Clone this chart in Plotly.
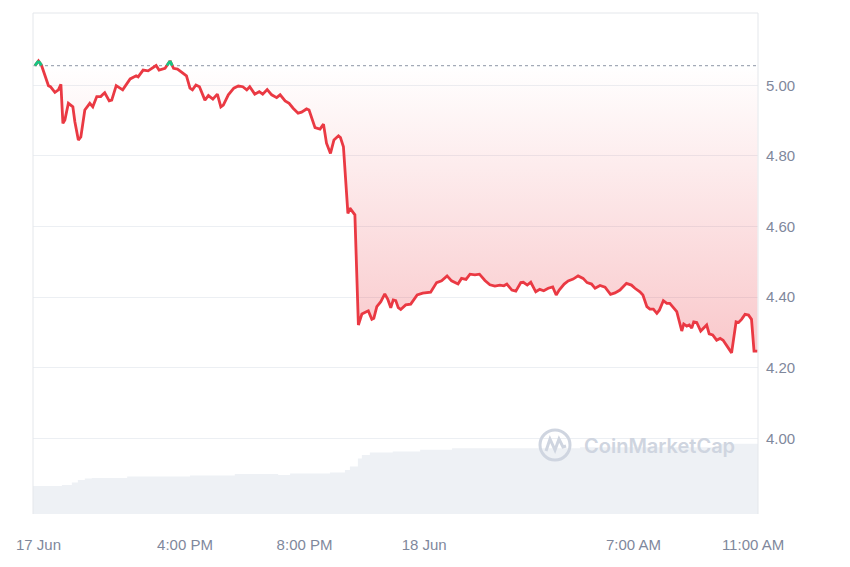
import plotly.graph_objects as go
import pandas as pd

# ---------------- data ----------------
TIMES = [
    "2024-06-17 10:59", "2024-06-17 11:06", "2024-06-17 11:12", "2024-06-17 11:19", "2024-06-17 11:26",
    "2024-06-17 11:30", "2024-06-17 11:39", "2024-06-17 11:46", "2024-06-17 11:51", "2024-06-17 11:55",
    "2024-06-17 11:59", "2024-06-17 12:06", "2024-06-17 12:15", "2024-06-17 12:19", "2024-06-17 12:26",
    "2024-06-17 12:31", "2024-06-17 12:39", "2024-06-17 12:49", "2024-06-17 12:55", "2024-06-17 13:03",
    "2024-06-17 13:11", "2024-06-17 13:16", "2024-06-17 13:19", "2024-06-17 13:28", "2024-06-17 13:33",
    "2024-06-17 13:42", "2024-06-17 13:50", "2024-06-17 13:55", "2024-06-17 14:10", "2024-06-17 14:22",
    "2024-06-17 14:26", "2024-06-17 14:36", "2024-06-17 14:46", "2024-06-17 14:53", "2024-06-17 15:02",
    "2024-06-17 15:08", "2024-06-17 15:20", "2024-06-17 15:30", "2024-06-17 15:37", "2024-06-17 15:45",
    "2024-06-17 15:53", "2024-06-17 16:03", "2024-06-17 16:10", "2024-06-17 16:15", "2024-06-17 16:22",
    "2024-06-17 16:29", "2024-06-17 16:40", "2024-06-17 16:47", "2024-06-17 16:56", "2024-06-17 17:05",
    "2024-06-17 17:12", "2024-06-17 17:17", "2024-06-17 17:27", "2024-06-17 17:38", "2024-06-17 17:47",
    "2024-06-17 17:56", "2024-06-17 18:04", "2024-06-17 18:10", "2024-06-17 18:20", "2024-06-17 18:29",
    "2024-06-17 18:36", "2024-06-17 18:45", "2024-06-17 18:54", "2024-06-17 19:04", "2024-06-17 19:11",
    "2024-06-17 19:21", "2024-06-17 19:29", "2024-06-17 19:37", "2024-06-17 19:47", "2024-06-17 19:54",
    "2024-06-17 20:04", "2024-06-17 20:09", "2024-06-17 20:21", "2024-06-17 20:31", "2024-06-17 20:38",
    "2024-06-17 20:44", "2024-06-17 20:52", "2024-06-17 20:59", "2024-06-17 21:08", "2024-06-17 21:12",
    "2024-06-17 21:18", "2024-06-17 21:21", "2024-06-17 21:27", "2024-06-17 21:31", "2024-06-17 21:41",
    "2024-06-17 21:48", "2024-06-17 21:55", "2024-06-17 22:05", "2024-06-17 22:08", "2024-06-17 22:15",
    "2024-06-17 22:19", "2024-06-17 22:25", "2024-06-17 22:33", "2024-06-17 22:41", "2024-06-17 22:47",
    "2024-06-17 22:53", "2024-06-17 22:58", "2024-06-17 23:03", "2024-06-17 23:08", "2024-06-17 23:13",
    "2024-06-17 23:23", "2024-06-17 23:33", "2024-06-17 23:46", "2024-06-17 23:57",
    "2024-06-18 00:04", "2024-06-18 00:13", "2024-06-18 00:25", "2024-06-18 00:35", "2024-06-18 00:46",
    "2024-06-18 00:55", "2024-06-18 01:08", "2024-06-18 01:15", "2024-06-18 01:24", "2024-06-18 01:32",
    "2024-06-18 01:42", "2024-06-18 01:51", "2024-06-18 02:02", "2024-06-18 02:12", "2024-06-18 02:22",
    "2024-06-18 02:32", "2024-06-18 02:40", "2024-06-18 02:46", "2024-06-18 02:56", "2024-06-18 03:04",
    "2024-06-18 03:14", "2024-06-18 03:19", "2024-06-18 03:27", "2024-06-18 03:34", "2024-06-18 03:44",
    "2024-06-18 03:52", "2024-06-18 04:00", "2024-06-18 04:09", "2024-06-18 04:18", "2024-06-18 04:25",
    "2024-06-18 04:31", "2024-06-18 04:41", "2024-06-18 04:49", "2024-06-18 04:59", "2024-06-18 05:09",
    "2024-06-18 05:19", "2024-06-18 05:27", "2024-06-18 05:36", "2024-06-18 05:43", "2024-06-18 05:53",
    "2024-06-18 06:03", "2024-06-18 06:14", "2024-06-18 06:23", "2024-06-18 06:33", "2024-06-18 06:46",
    "2024-06-18 06:56", "2024-06-18 07:03", "2024-06-18 07:13", "2024-06-18 07:19", "2024-06-18 07:27",
    "2024-06-18 07:33", "2024-06-18 07:40", "2024-06-18 07:47", "2024-06-18 07:52", "2024-06-18 08:00",
    "2024-06-18 08:07", "2024-06-18 08:13", "2024-06-18 08:21", "2024-06-18 08:27", "2024-06-18 08:33",
    "2024-06-18 08:37", "2024-06-18 08:41", "2024-06-18 08:47", "2024-06-18 08:52", "2024-06-18 08:57",
    "2024-06-18 09:01", "2024-06-18 09:07", "2024-06-18 09:15", "2024-06-18 09:20", "2024-06-18 09:27",
    "2024-06-18 09:32", "2024-06-18 09:39", "2024-06-18 09:47", "2024-06-18 09:54", "2024-06-18 10:00",
    "2024-06-18 10:07", "2024-06-18 10:17", "2024-06-18 10:26", "2024-06-18 10:31", "2024-06-18 10:37",
    "2024-06-18 10:44", "2024-06-18 10:51", "2024-06-18 10:57", "2024-06-18 11:02", "2024-06-18 11:09",
]

PRICES = [
    5.056, 5.069, 5.057, 5.029, 4.999,
    4.996, 4.980, 4.987, 5.003, 4.892,
    4.902, 4.949, 4.939, 4.897, 4.845,
    4.854, 4.930, 4.949, 4.939, 4.968,
    4.968, 4.975, 4.979, 4.956, 4.958,
    4.999, 4.992, 4.987, 5.018, 5.027,
    5.024, 5.043, 5.041, 5.048, 5.056,
    5.043, 5.048, 5.069, 5.048, 5.046,
    5.037, 5.027, 4.992, 4.987, 5.001,
    4.996, 4.958, 4.971, 4.961, 4.975,
    4.939, 4.944, 4.973, 4.992, 4.998,
    4.996, 4.987, 4.996, 4.975, 4.982,
    4.975, 4.988, 4.973, 4.965, 4.973,
    4.956, 4.949, 4.935, 4.921, 4.924,
    4.933, 4.930, 4.880, 4.876, 4.890,
    4.836, 4.807, 4.845, 4.857, 4.852,
    4.826, 4.760, 4.637, 4.652, 4.633,
    4.321, 4.352, 4.359, 4.361, 4.337,
    4.340, 4.373, 4.387, 4.409, 4.394,
    4.370, 4.392, 4.390, 4.370, 4.365,
    4.378, 4.380, 4.406, 4.411,
    4.412, 4.414, 4.441, 4.446, 4.460,
    4.446, 4.437, 4.453, 4.450, 4.465,
    4.463, 4.465, 4.447, 4.435, 4.431,
    4.434, 4.432, 4.437, 4.420, 4.417,
    4.441, 4.442, 4.434, 4.442, 4.415,
    4.422, 4.418, 4.425, 4.429, 4.406,
    4.420, 4.437, 4.446, 4.451, 4.460,
    4.453, 4.441, 4.437, 4.425, 4.433,
    4.428, 4.408, 4.412, 4.420, 4.439,
    4.434, 4.425, 4.415, 4.406, 4.373,
    4.366, 4.366, 4.354, 4.363, 4.390,
    4.382, 4.382, 4.368, 4.359, 4.326,
    4.304, 4.324, 4.318, 4.321, 4.312,
    4.330, 4.328, 4.304, 4.312, 4.321,
    4.296, 4.293, 4.278, 4.283, 4.278,
    4.264, 4.242, 4.330, 4.328, 4.337,
    4.351, 4.349, 4.337, 4.247, 4.247,
]

# 24h volume (USD millions), step series
VOL_TIMES = [
    "2024-06-17 10:55", "2024-06-17 11:53", "2024-06-17 12:13", "2024-06-17 12:25", "2024-06-17 12:39",
    "2024-06-17 12:53", "2024-06-17 14:04", "2024-06-17 16:10", "2024-06-17 17:40", "2024-06-17 19:07",
    "2024-06-17 19:31", "2024-06-17 20:51", "2024-06-17 21:21", "2024-06-17 21:31", "2024-06-17 21:47",
    "2024-06-17 21:55", "2024-06-17 22:11", "2024-06-17 22:57", "2024-06-17 23:52", "2024-06-18 00:56",
    "2024-06-18 05:13", "2024-06-18 09:54", "2024-06-18 11:10",
]
VOLUMES = [
    56, 58, 63, 68, 71,
    72, 75, 77, 80, 78,
    81, 83, 88, 95, 111,
    118, 123, 125, 128, 131,
    133, 140, 140,
]

TICK_TIMES = ["2024-06-17 11:06", "2024-06-17 16:00", "2024-06-17 20:00",
              "2024-06-18 00:00", "2024-06-18 07:00", "2024-06-18 11:00"]
TICK_LABELS = ["17 Jun", "4:00 PM", "8:00 PM", "18 Jun", "7:00 AM", "11:00 AM"]
PRICE_TICKS = [4.00, 4.20, 4.40, 4.60, 4.80, 5.00]

# ---------------- styling ----------------
RED = "#ea3943"
GREEN = "#16c784"
TXT = "#7f889c"
GRID = "#eceff3"
BORDER = "#e4e7eb"
FONT = "Liberation Sans, Arial, sans-serif"

t = pd.to_datetime(TIMES)
base = PRICES[0]

# green (above open) segments, with crossing points computed from the data
gx, gy = [], []
for i in range(len(PRICES) - 1):
    x0, y0, x1, y1 = t[i], PRICES[i], t[i + 1], PRICES[i + 1]
    a0, a1 = y0 > base, y1 > base
    if not (a0 or a1):
        continue
    if a0 and a1:
        seg = [(x0, y0), (x1, y1)]
    else:
        f = (base - y0) / (y1 - y0)
        xc = x0 + (x1 - x0) * f
        seg = [(x0, y0), (xc, base)] if a0 else [(xc, base), (x1, y1)]
    gx += [s[0] for s in seg] + [None]
    gy += [s[1] for s in seg] + [None]

fill_y = [min(p, base) for p in PRICES]

fig = go.Figure()

# volume (base axis, hidden)
fig.add_trace(go.Scatter(
    x=pd.to_datetime(VOL_TIMES), y=VOLUMES, mode="lines", line=dict(width=0, shape="hv"),
    fill="tozeroy", fillcolor="#eef1f5", hoverinfo="skip", yaxis="y"))

# baseline + gradient fill down to price
fig.add_trace(go.Scatter(x=t, y=[base] * len(t), mode="lines", line=dict(width=0),
                         hoverinfo="skip", yaxis="y2"))
fig.add_trace(go.Scatter(
    x=t, y=fill_y, mode="lines", line=dict(width=0), fill="tonexty",
    fillgradient=dict(type="vertical", start=4.24, stop=base,
                      colorscale=[[0, "rgba(234,57,67,0.28)"], [1, "rgba(234,57,67,0.0)"]]),
    hoverinfo="skip", yaxis="y2"))

# price line
fig.add_trace(go.Scatter(x=t, y=PRICES, mode="lines", line=dict(color=RED, width=2.8),
                         yaxis="y2"))
fig.add_trace(go.Scatter(x=gx, y=gy, mode="lines", line=dict(color=GREEN, width=2.8),
                         connectgaps=False, yaxis="y2"))

# dotted open-price line
fig.add_shape(type="line", xref="paper", x0=0, x1=1, yref="y2", y0=base, y1=base,
              line=dict(color="#a3aab7", width=1.2, dash="dot"), layer="below")

# plot border (top, left, right)
for (x0, y0, x1, y1) in [(0, 1, 1, 1), (0, 0, 0, 1), (1, 0, 1, 1)]:
    fig.add_shape(type="line", xref="paper", yref="paper", x0=x0, y0=y0, x1=x1, y1=y1,
                  line=dict(color=BORDER, width=1))

# CoinMarketCap watermark
L, T, W, H = 33, 13, 725, 501
def px(X):
    return (X - L) / W
def py(Y):
    return (T + H - Y) / H
WM = "#cfd5e0"
fig.add_shape(type="circle", xref="paper", yref="paper",
              x0=px(540), x1=px(570), y0=py(460), y1=py(430),
              line=dict(color=WM, width=3))
wave = [(546, 451), (550, 439), (555, 450), (559, 439), (563, 447), (566, 446)]
path = "M " + " L ".join(f"{px(a):.4f},{py(b):.4f}" for a, b in wave)
fig.add_shape(type="path", xref="paper", yref="paper", path=path,
              line=dict(color=WM, width=3))
fig.add_annotation(text="CoinMarketCap", xref="paper", yref="paper",
                   x=px(659), y=py(446), xanchor="center", yanchor="middle", showarrow=False,
                   font=dict(family="Inter, sans-serif", size=20, color=WM, weight=600))

fig.update_layout(
    width=850, height=567,
    margin=dict(l=33, r=92, t=13, b=53),
    paper_bgcolor="white", plot_bgcolor="white",
    showlegend=False,
    font=dict(family=FONT, size=15, color=TXT),
    xaxis=dict(type="date", range=["2024-06-17 10:55", "2024-06-18 11:10"],
               tickvals=pd.to_datetime(TICK_TIMES), ticktext=TICK_LABELS,
               showgrid=False, zeroline=False, showline=False, ticks="",
               ticklabelstandoff=20, tickfont=dict(size=15, color=TXT)),
    yaxis=dict(range=[0, 1000], visible=False, fixedrange=True),
    yaxis2=dict(overlaying="y", side="right", range=[3.7856, 5.2048],
                tickvals=PRICE_TICKS, tickformat=".2f",
                showgrid=True, gridcolor=GRID, gridwidth=1, zeroline=False,
                showline=False, ticks="", ticklabelstandoff=7,
                tickfont=dict(size=15, color=TXT)),
)

fig.write_html("out.html", config={"displayModeBar": False},
               post_script="document.body.style.margin='0';")
